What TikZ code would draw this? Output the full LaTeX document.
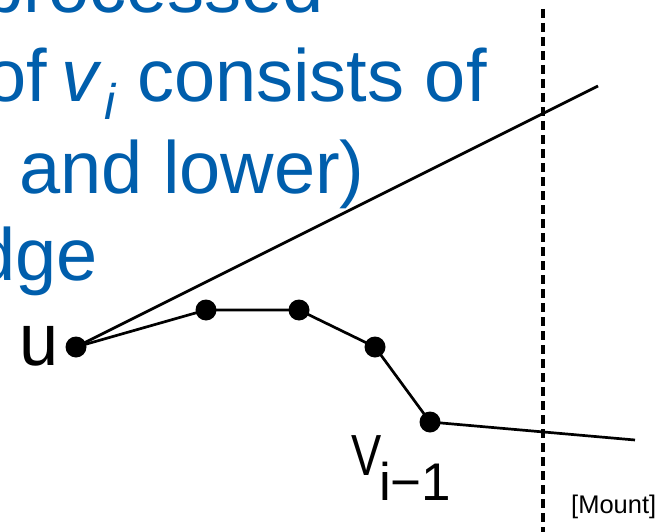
\documentclass[tikz,border=0pt]{standalone}
\usepackage{fontspec}
\setmainfont{Liberation Sans}
\definecolor{slideblue}{RGB}{0,94,172}
\tikzset{
  dot/.style={circle,fill=black,inner sep=0pt,minimum size=21pt},
  seg/.style={line width=2.7pt,black},
  bigtxt/.style={inner sep=0pt,text=slideblue,font=\fontsize{74}{74}\selectfont},
  lbl/.style={inner sep=0pt,text=black},
}
\begin{document}
\begin{tikzpicture}[x=1pt,y=-1pt]
\useasboundingbox (0,0) rectangle (666,532);
\clip (0,0) rectangle (666,532);
% slide text (cropped)
\node[bigtxt,anchor=base east] (t1) at (324,13) {processed};
\node[bigtxt,anchor=base east] (t2a) at (47,102) {of};
\node[bigtxt,anchor=base west] (t2v) at (61,102) {\itshape v};
\node[inner sep=0pt,text=slideblue,font=\fontsize{50}{50}\selectfont\itshape,anchor=base west] (t2i) at (104,120) {i};
\node[bigtxt,anchor=base west] (t2b) at (137,102) {consists of};
\node[bigtxt,anchor=base west] (t3) at (19,193) {and lower)};
\node[bigtxt,anchor=base east] (t4) at (98,280) {dge};
% sweep line
\draw[line width=3.5pt,dash pattern=on 9pt off 5pt] (543,9) coordinate (s1) -- (543,532) coordinate (s2);
% vertices
\node[dot] (u) at (76,347) {};
\node[dot] (p1) at (206,310) {};
\node[dot] (p2) at (299,310) {};
\node[dot] (p3) at (375,347) {};
\node[dot] (v) at (430,422) {};
\coordinate (e1) at (598,86);
\coordinate (e2) at (635,440);
\draw[seg] (u.center) -- (e1);
\draw[seg] (u.center) -- (p1.center) -- (p2.center) -- (p3.center) -- (v.center) -- (e2);
% labels
\node[lbl,anchor=base west,font=\fontsize{74}{74}\selectfont,xscale=0.95] (ul) at (19,365) {u};
\node[lbl,anchor=base west,font=\fontsize{58}{58}\selectfont,xscale=0.78] (vl) at (351,475) {V};
\node[lbl,anchor=base west,font=\fontsize{53}{53}\selectfont] (vs) at (379,500) {i−1};
\node[lbl,anchor=base west,font=\fontsize{25.5}{25.5}\selectfont] (m) at (571,513) {[Mount]};
\end{tikzpicture}
\end{document}
